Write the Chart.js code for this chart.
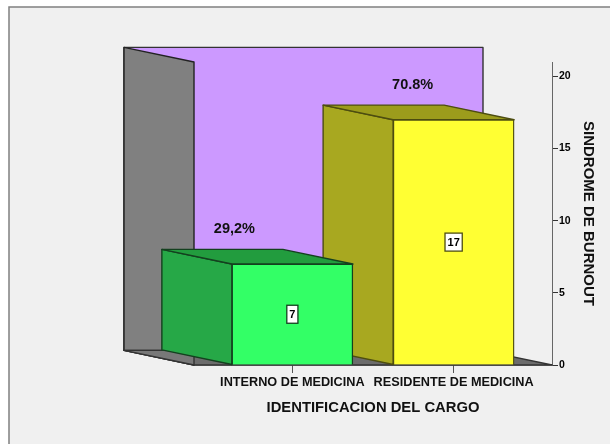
<!DOCTYPE html>
<html>
<head>
<meta charset="utf-8">
<style>
html, body { margin: 0; padding: 0; background: #fff; }
canvas { display: block; }
</style>
<script src="https://cdn.jsdelivr.net/npm/chart.js@4"></script>
</head>
<body>
<canvas id="burnoutChart" width="610" height="444"></canvas>
<script>
var categories = ['INTERNO DE MEDICINA', 'RESIDENTE DE MEDICINA'];
var counts = [7, 17];
var percents = ['29,2%', '70.8%'];

var frontColors = ['#33ff66', '#ffff33'];
var sideColors = ['#26a847', '#a8a820'];
var topColors = ['#229c3e', '#9c9c1c'];
var edgeColors = ['#14401f', '#4d4d10'];
var FONT = '"Liberation Sans", Arial, sans-serif';

// 3D depth of the box, in pixels
var depthX = 70;
var depthY = 14.6;
// the percent labels do not sit at the same spot over each bar
var percentShift = [-58, -41];

function poly(ctx, pts, fill, stroke) {
    ctx.beginPath();
    ctx.moveTo(pts[0][0], pts[0][1]);
    for (var i = 1; i < pts.length; i++) ctx.lineTo(pts[i][0], pts[i][1]);
    ctx.closePath();
    ctx.fillStyle = fill;
    ctx.fill();
    ctx.lineWidth = 1.4;
    ctx.lineJoin = 'round';
    ctx.strokeStyle = stroke;
    ctx.stroke();
}

var box3d = {
    id: 'box3d',
    beforeDraw: function(chart) {
        var ctx = chart.ctx;
        ctx.save();
        ctx.fillStyle = '#ffffff';
        ctx.fillRect(0, 0, 610, 444);
        ctx.fillStyle = '#f0f0f0';
        ctx.fillRect(9, 7, 601, 437);
        ctx.strokeStyle = '#808080';
        ctx.lineWidth = 1.5;
        ctx.beginPath();
        ctx.moveTo(9, 444);
        ctx.lineTo(9, 7);
        ctx.lineTo(610, 7);
        ctx.stroke();
        ctx.restore();
    },
    beforeDatasetsDraw: function(chart) {
        var ctx = chart.ctx;
        var a = chart.chartArea;
        var b = a.bottom, t = a.top, l = a.left, r = a.right;
        ctx.save();
        // pared del fondo, pared izquierda, piso
        poly(ctx, [[l - depthX, t - depthY], [r - depthX + 1, t - depthY], [r - depthX + 1, b - depthY], [l - depthX, b - depthY]], '#cc99ff', '#333333');
        poly(ctx, [[l - depthX, t - depthY], [l, t], [l, b], [l - depthX, b - depthY]], '#808080', '#222222');
        poly(ctx, [[l - depthX, b - depthY], [r - depthX, b - depthY], [r, b], [l, b]], '#6c6c6c', '#333333');
        poly(ctx, [[l - depthX, b - depthY], [l, b - depthY], [l, b]], '#787878', '#333333');
        // caras de las barras, de atras hacia adelante
        var bars = chart.getDatasetMeta(0).data;
        for (var i = bars.length - 1; i >= 0; i--) {
            var bar = bars[i];
            var x0 = bar.x - bar.width / 2;
            var x1 = bar.x + bar.width / 2;
            poly(ctx, [[x0 - depthX, bar.y - depthY], [x0, bar.y], [x0, bar.base], [x0 - depthX, bar.base - depthY]], sideColors[i], edgeColors[i]);
            poly(ctx, [[x0 - depthX, bar.y - depthY], [x1 - depthX, bar.y - depthY], [x1, bar.y], [x0, bar.y]], topColors[i], edgeColors[i]);
        }
        ctx.restore();
    },
    afterDatasetsDraw: function(chart) {
        var ctx = chart.ctx;
        var bars = chart.getDatasetMeta(0).data;
        ctx.save();
        ctx.textAlign = 'center';
        ctx.textBaseline = 'middle';
        bars.forEach(function(bar, i) {
            var cy = (bar.y + bar.base) / 2;
            var label = String(counts[i]);
            ctx.font = 'bold 11px ' + FONT;
            var w = ctx.measureText(label).width + 5;
            ctx.fillStyle = '#ffffff';
            ctx.fillRect(bar.x - w / 2, cy - 9, w, 18);
            ctx.strokeStyle = edgeColors[i];
            ctx.lineWidth = 1.3;
            ctx.strokeRect(bar.x - w / 2, cy - 9, w, 18);
            ctx.fillStyle = '#000000';
            ctx.fillText(label, bar.x, cy + 0.5);
            ctx.font = 'bold 14.5px ' + FONT;
            ctx.fillStyle = '#111111';
            ctx.fillText(percents[i], bar.x + percentShift[i], bar.y - 35);
        });
        ctx.restore();
    }
};

new Chart(document.getElementById('burnoutChart').getContext('2d'), {
    type: 'bar',
    data: {
        datasets: [{
            data: counts.map(function(v, i) { return { x: i, y: v }; }),
            backgroundColor: frontColors,
            borderColor: edgeColors,
            borderWidth: 1.4,
            barThickness: 121
        }]
    },
    plugins: [box3d],
    options: {
        responsive: false,
        animation: false,
        layout: { padding: { left: 194, top: 62, right: 13, bottom: 27 } },
        plugins: { legend: { display: false }, tooltip: { enabled: false } },
        scales: {
            x: {
                type: 'linear',
                offset: false,
                min: -0.61,
                max: 1.61,
                afterBuildTicks: function(scale) {
                    scale.ticks = categories.map(function(c, i) { return { value: i }; });
                },
                afterFit: function(scale) { scale.height = 52; },
                grid: { offset: false, drawOnChartArea: false, drawTicks: true, tickLength: 8, tickColor: '#555555' },
                border: { color: '#333333', width: 1.4 },
                ticks: {
                    autoSkip: false,
                    maxRotation: 0,
                    padding: 2,
                    color: '#111111',
                    font: { family: FONT, weight: 'bold', size: 12.7 },
                    callback: function(v) { return categories[v]; }
                },
                title: {
                    display: true,
                    text: 'IDENTIFICACION DEL CARGO',
                    color: '#111111',
                    padding: { top: 6, bottom: 0 },
                    font: { family: FONT, weight: 'bold', size: 14.8 }
                }
            },
            y: {
                position: 'right',
                min: 0,
                max: 21,
                afterFit: function(scale) { scale.width = 45; },
                grid: { drawOnChartArea: false, tickLength: 6, tickColor: '#333333' },
                border: { color: '#666666' },
                ticks: {
                    stepSize: 5,
                    includeBounds: false,
                    padding: 1,
                    color: '#000000',
                    font: { family: FONT, weight: 'bold', size: 10.5 }
                },
                title: {
                    display: true,
                    text: 'SINDROME DE BURNOUT',
                    color: '#111111',
                    padding: 0,
                    font: { family: FONT, weight: 'bold', size: 15 }
                }
            }
        }
    }
});
</script>
</body>
</html>
